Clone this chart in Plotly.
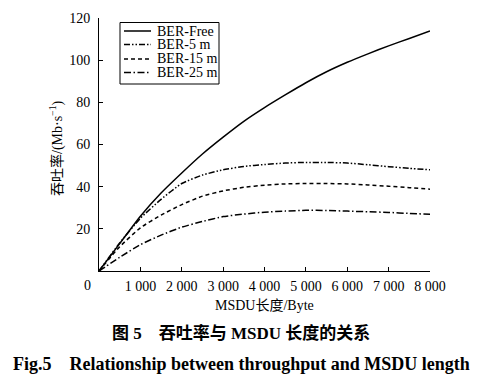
import plotly.graph_objects as go

msdu = [0, 500, 1000, 1500, 2000, 2500, 3000, 3500, 4000, 4500, 5000, 5500, 6000, 6500, 7000, 7500, 8000]
ber_free = [0, 13, 26, 37, 46.5, 55.5, 63.5, 71, 77.5, 83.5, 89.3, 94.5, 99, 103, 106.8, 110.3, 113.8]
ber_5 = [0, 13.3, 25, 34, 41.5, 45.5, 48, 49.6, 50.5, 51.2, 51.5, 51.5, 51.2, 50.4, 49.5, 48.7, 48]
ber_15 = [0, 11.5, 20.5, 26.5, 31.5, 35.5, 38, 39.7, 40.7, 41.3, 41.5, 41.5, 41.3, 40.8, 40.2, 39.5, 38.8]
ber_25 = [0, 6.5, 12.5, 17, 20.8, 23.5, 25.8, 27, 27.9, 28.4, 28.8, 28.7, 28.4, 28.1, 27.8, 27.3, 26.9]

series_names = ["BER-Free", "BER-5 m", "BER-15 m", "BER-25 m"]
x_tickvals = [1000, 2000, 3000, 4000, 5000, 6000, 7000, 8000]
x_ticktext = ["1 000", "2 000", "3 000", "4 000", "5 000", "6 000", "7 000", "8 000"]
y_tickvals = [20, 40, 60, 80, 100, 120]

SERIF = "Liberation Serif, Times New Roman, serif"
CJK = "Liberation Serif, Noto Sans CJK SC, serif"

dashes = ["solid", "6px,2px,1.5px,2px,1.5px,2px", "4px,3px", "7px,2.5px,1.5px,2.5px"]
ys = [ber_free, ber_5, ber_15, ber_25]

# page body has an 8px margin; figure sized so its content sits where the reference has it
OFF = 8
W, H = 484, 371
ML, MR, MT, MB = 91, 62, 10, 108
PW, PH = W - ML - MR, H - MT - MB


def px(xs):
    return (xs - OFF - ML) / PW


def py(ys_):
    return (H - MB - (ys_ - OFF)) / PH


fig = go.Figure()
for name, y, d in zip(series_names, ys, dashes):
    fig.add_trace(go.Scatter(x=msdu, y=y, mode="lines", name=name, showlegend=False,
                             line=dict(color="black", width=1.5, dash=d, shape="spline", smoothing=0.5)))

fig.update_layout(
    width=W, height=H,
    margin=dict(l=ML, r=MR, t=MT, b=MB, autoexpand=False),
    paper_bgcolor="white", plot_bgcolor="white",
    font=dict(family=SERIF, size=14, color="black"),
    xaxis=dict(range=[0, 8000], tickvals=x_tickvals, ticktext=x_ticktext,
               showline=True, linecolor="black", linewidth=1,
               ticks="inside", ticklen=4, tickcolor="black", ticklabelstandoff=2,
               showgrid=False, zeroline=False, tickfont=dict(size=14)),
    yaxis=dict(range=[0, 120], tickvals=y_tickvals,
               showline=True, linecolor="black", linewidth=1,
               ticks="inside", ticklen=4, tickcolor="black", ticklabelstandoff=5,
               showgrid=False, zeroline=False, tickfont=dict(size=14)),
)

# manual legend box (entries drawn as sample lines + labels)
shapes = [dict(type="rect", xref="paper", yref="paper", x0=px(120), x1=px(219),
               y0=py(84), y1=py(22.5), line=dict(color="black", width=1), fillcolor="white",
               layer="above")]
leg_y = [31, 44.5, 59, 72.5]
for name, d, ly in zip(series_names, dashes, leg_y):
    shapes.append(dict(type="line", xref="paper", yref="paper", x0=px(124), x1=px(151),
                       y0=py(ly), y1=py(ly), line=dict(color="black", width=1.5, dash=d),
                       layer="above"))
    fig.add_annotation(x=px(155), y=py(ly), xref="paper", yref="paper", text=name,
                       xanchor="left", yanchor="middle", showarrow=False,
                       font=dict(family=SERIF, size=14))
fig.update_layout(shapes=shapes)


def label(xs, ys_, text, font, angle=0):
    fig.add_annotation(x=px(xs), y=py(ys_), xref="paper", yref="paper", text=text,
                       xanchor="center", yanchor="middle", showarrow=False,
                       textangle=angle, font=font)


label(87, 285, "0", dict(family=SERIF, size=14))
label(264, 305, "MSDU长度/Byte", dict(family=CJK, size=14))
label(57, 148, "吞吐率/(Mb·s<sup>−1</sup>)", dict(family=CJK, size=14), angle=-90)
label(241, 333, "<b>图 5    吞吐率与 MSDU 长度的关系</b>", dict(family=CJK, size=17))
label(241, 364, "<b>Fig.5    Relationship between throughput and MSDU length</b>",
      dict(family=SERIF, size=18))

fig.write_html("out.html")
